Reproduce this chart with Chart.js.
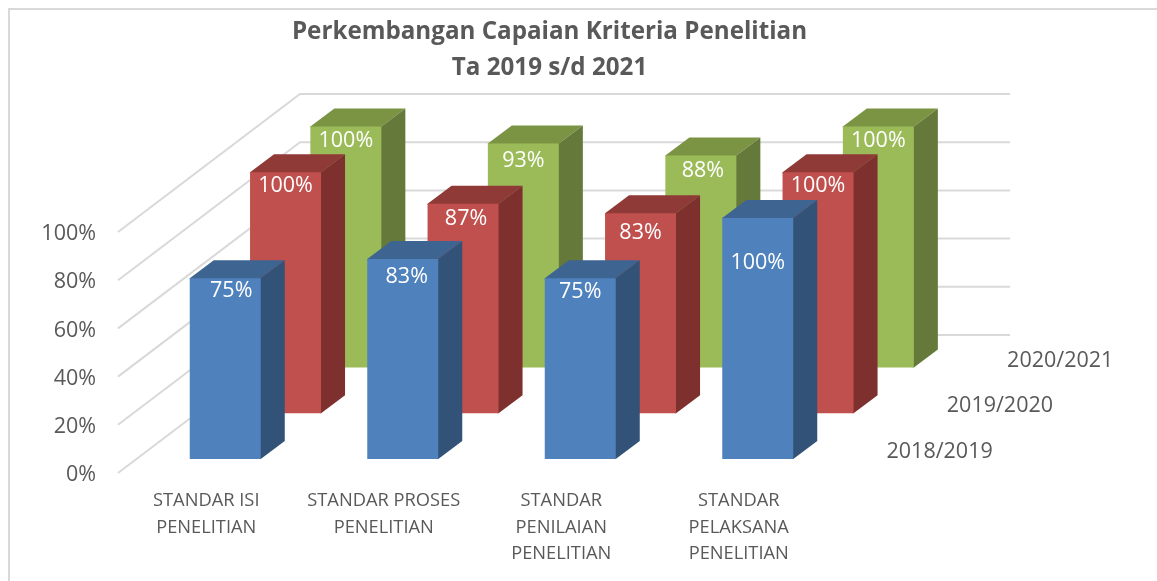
<!DOCTYPE html>
<html><head><meta charset="utf-8">
<style>html,body{margin:0;padding:0;background:#fff}canvas{display:block}</style>
<script src="https://cdn.jsdelivr.net/npm/chart.js@4/dist/chart.umd.min.js"></script>
</head><body><canvas id="c" width="1157" height="581"></canvas>
<script>
const categories = [
  ["STANDAR ISI","PENELITIAN"],
  ["STANDAR PROSES","PENELITIAN"],
  ["STANDAR","PENILAIAN","PENELITIAN"],
  ["STANDAR","PELAKSANA","PENELITIAN"]
];
const seriesNames = ["2018/2019","2019/2020","2020/2021"];
const values2018 = [75,83,75,100];
const values2019 = [100,87,83,100];
const values2020 = [100,93,88,100];
const yTicks = [0,20,40,60,80,100];

const FRONT = ["#4f81bd","#c0504d","#9bbb59"];
const TOP   = ["#3e6491","#903a38","#7a9443"];
const SIDE  = ["#335277","#7d302e","#657a3a"];
const FONT = '"Open Sans", sans-serif';
const TEXT = "#595959", GRID = "#d9d9d9";
const rowDx = 60.3, rowDy = 45.7, firstDx = 17.5, firstDy = 13, faceDx = 24, faceDy = 18;
const wallDx = 181, wallDy = 137;
const labelNudge = [
  [[6,13],[4,18],[0,14],[0,45]],
  [[0,14],[3,15],[0,20],[0,14]],
  [[0,14],[0,17],[2,15],[0,14]]
];
const off = i => ({x:firstDx+rowDx*i, y:-firstDy-rowDy*i});

const depth3d = {
  id:"depth3d",
  beforeDraw(chart){
    const c=chart.ctx; c.save();
    c.fillStyle="#fff"; c.fillRect(0,0,chart.width,chart.height);
    c.strokeStyle=GRID; c.lineWidth=2;
    c.beginPath(); c.moveTo(9,chart.height); c.lineTo(9,9); c.lineTo(chart.width,9); c.stroke();
    c.restore();
  },
  afterLayout(chart){
    chart.titleBlock.left=0; chart.titleBlock.right=1099;
  },
  beforeDatasetsDraw(chart){
    const c=chart.ctx,{x,y}=chart.scales; c.save();
    c.strokeStyle=GRID; c.lineWidth=2; c.lineJoin="miter";
    for(const v of yTicks){
      const py=y.getPixelForValue(v);
      c.beginPath(); c.moveTo(x.left-1,py+1);
      c.lineTo(x.left+wallDx,py-wallDy); c.lineTo(x.right+wallDx,py-wallDy); c.stroke();
    }
    c.restore();
  },
  beforeDatasetDraw(chart,args){
    const i=args.index,o=off(i),c=chart.ctx;
    c.save(); c.translate(o.x,o.y);
    args.meta.data.forEach(el=>{
      const {x,y,base,width}=el.getProps(["x","y","base","width"],true);
      const l=x-width/2,r=x+width/2;
      c.fillStyle=TOP[i];
      c.beginPath(); c.moveTo(l,y+1); c.lineTo(l,y); c.lineTo(l+faceDx,y-faceDy); c.lineTo(r+faceDx,y-faceDy); c.lineTo(r,y); c.lineTo(r,y+1); c.closePath(); c.fill();
      c.fillStyle=SIDE[i];
      c.beginPath(); c.moveTo(r-1,y); c.lineTo(r,y); c.lineTo(r+faceDx,y-faceDy); c.lineTo(r+faceDx,base-faceDy); c.lineTo(r,base); c.lineTo(r-1,base); c.closePath(); c.fill();
    });
  },
  afterDatasetDraw(chart,args){
    const i=args.index,c=chart.ctx;
    args.meta.data.forEach((el,j)=>{
      const {x,y}=el.getProps(["x","y"],true);
      c.fillStyle="#fff"; c.font='21.5px '+FONT; c.textAlign="center"; c.textBaseline="middle";
      const n=labelNudge[i][j];
      c.fillText(chart.data.datasets[i].data[j]+"%",x+n[0],y+n[1]);
    });
    c.restore();
  },
  afterDatasetsDraw(chart){
    const c=chart.ctx,{x,y}=chart.scales; c.save();
    c.fillStyle=TEXT; c.font='21.5px '+FONT; c.textAlign="left"; c.textBaseline="middle";
    seriesNames.forEach((s,i)=>{
      const o=off(i);
      c.fillText(s,x.right+o.x+40,y.bottom+o.y-7);
    });
    c.restore();
  }
};

new Chart(document.getElementById("c"),{
  type:"bar",
  data:{labels:categories,datasets:[
    {label:seriesNames[0],data:values2018,backgroundColor:FRONT[0]},
    {label:seriesNames[1],data:values2019,backgroundColor:FRONT[1]},
    {label:seriesNames[2],data:values2020,backgroundColor:FRONT[2]}
  ].map(d=>({...d,clip:false,grouped:false,barPercentage:0.4,categoryPercentage:1}))},
  plugins:[depth3d],
  options:{
    responsive:false,animation:false,
    layout:{padding:{left:0,right:328,top:0,bottom:0}},
    plugins:{
      legend:{display:false},tooltip:{enabled:false},
      title:{display:true,text:["Perkembangan Capaian Kriteria Penelitian","Ta 2019 s/d 2021"],
        color:TEXT,font:{family:FONT,size:24.2,weight:"bold",lineHeight:"36px"},
        padding:{top:14,bottom:145}}
    },
    scales:{
      x:{
        grid:{display:false},border:{display:false},
        afterFit(s){s.height=109;},
        ticks:{color:TEXT,font:{family:FONT,size:18.3,lineHeight:"26.5px"},padding:8,labelOffset:-1.5,autoSkip:false,maxRotation:0,minRotation:0}
      },
      y:{
        min:0,max:100,
        grid:{display:false},border:{display:false},
        afterFit(s){s.width=119;},
        afterBuildTicks(s){s.ticks=yTicks.map(v=>({value:v}));},
        ticks:{color:TEXT,font:{family:FONT,size:21.5},padding:15,labelOffset:3,callback:v=>v+"%"}
      }
    }
  }
});
</script></body></html>
